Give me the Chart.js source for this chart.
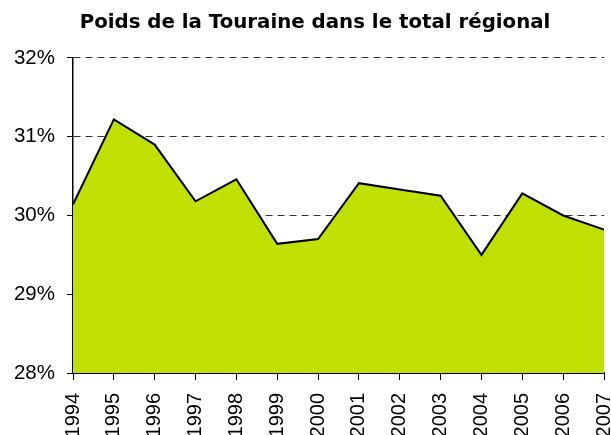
<!DOCTYPE html>
<html>
<head>
<meta charset="utf-8">
<script src="https://cdn.jsdelivr.net/npm/chart.js@4/dist/chart.umd.min.js"></script>
<style>
  html, body { margin: 0; padding: 0; background: #fff; }
  #wrap { width: 611px; height: 435px; position: relative; }
</style>
</head>
<body>
<div id="wrap"><canvas id="myChart"></canvas></div>
<script>
// data
const years = ["1994","1995","1996","1997","1998","1999","2000","2001","2002","2003","2004","2005","2006","2007"];
const poids = [30.14, 31.22, 30.90, 30.18, 30.46, 29.64, 29.70, 30.41, 30.33, 30.25, 29.50, 30.28, 30.00, 29.82];
const yTicks = [28, 29, 30, 31, 32];

const titleText = "Poids de la Touraine dans le total régional";

// title in the original sits a bit right of the page centre
const shiftTitle = {
  id: "shiftTitle",
  afterLayout: function(chart) {
    if (chart.titleBlock) chart.titleBlock.left += 26;
  }
};

new Chart("myChart", {
  type: "line",
  data: {
    labels: years,
    datasets: [{
      data: poids,
      borderColor: "#000000",
      borderWidth: 2,
      backgroundColor: "#BFE000",
      fill: "start",
      tension: 0,
      pointRadius: 0
    }]
  },
  options: {
    responsive: true,
    maintainAspectRatio: false,
    animation: false,
    layout: { padding: { left: 0, right: 7, top: 0, bottom: 0 } },
    plugins: {
      legend: { display: false },
      tooltip: { enabled: false },
      title: {
        display: true,
        text: titleText,
        color: "#000",
        font: { family: "DejaVu Sans", size: 19.8, weight: "bold" },
        padding: { top: 10.5, bottom: 23.7 }
      }
    },
    scales: {
      x: {
        offset: false,
        grid: { display: true, drawOnChartArea: false, color: "#000", tickLength: 7, lineWidth: 1 },
        border: { display: true, color: "#000", width: 2 },
        ticks: {
          color: "#000",
          font: { family: "Liberation Sans", size: 20 },
          minRotation: 90,
          maxRotation: 90,
          autoSkip: false,
          padding: 13
        },
        afterFit: function(scale) {
          scale.height = 62;
          scale.paddingLeft = 0;
          scale.paddingRight = 0;
        }
      },
      y: {
        min: 28,
        max: 32,
        afterBuildTicks: function(scale) { scale.ticks = yTicks.map(v => ({ value: v })); },
        grid: { color: "#333", lineWidth: 1, tickLength: 6, tickBorderDash: [], tickColor: "#000" },
        border: { display: true, color: "#000", width: 1.5, dash: [7, 5] },
        ticks: {
          color: "#000",
          font: { family: "Liberation Sans", size: 20.5 },
          padding: 12,
          callback: function(v) { return v + "%"; }
        },
        afterFit: function(scale) {
          scale.width = 73;
          scale.paddingTop = 0;
          scale.paddingBottom = 0;
        }
      }
    }
  },
  plugins: [shiftTitle]
});
</script>
</body>
</html>
